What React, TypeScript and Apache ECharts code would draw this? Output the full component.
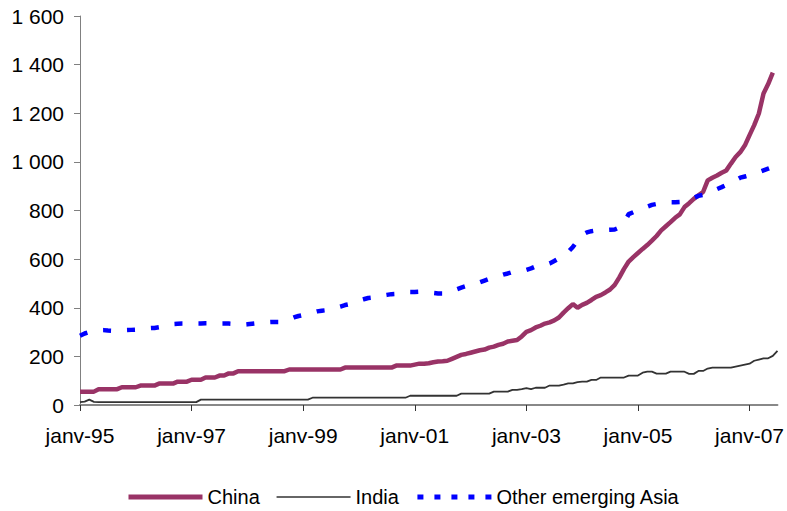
import React, { useEffect, useRef } from "react";
import * as echarts from "echarts";

// Monthly series, janv-95 through juil-07
const monthNames = ["janv", "févr", "mars", "avr", "mai", "juin", "juil", "août", "sept", "oct", "nov", "déc"];
const years = [95, 96, 97, 98, 99, 0, 1, 2, 3, 4, 5, 6, 7];
const pointCount = 151;

const china = [
  55, 55, 55, 55, 65, 65, 65, 65, 65, 73, 73, 73,
  73, 80, 80, 80, 80, 88, 88, 88, 88, 96, 96, 96,
  104, 104, 104, 113, 113, 113, 121, 121, 130, 130, 139, 139,
  139, 139, 139, 139, 139, 139, 139, 139, 139, 146, 146, 146,
  146, 146, 146, 146, 146, 146, 146, 146, 146, 154, 154, 154,
  154, 154, 154, 154, 154, 154, 154, 154, 162, 162, 162, 162,
  166, 170, 170, 172, 176, 179, 180, 182, 190, 198, 206, 210,
  215, 220, 225, 228, 236, 240, 247, 252, 261, 264, 267, 282,
  301, 308, 319, 326, 335, 340, 348, 360, 380, 398, 415, 400,
  412, 420, 432, 445, 452, 463, 475, 494, 525, 560, 590, 608,
  625, 642, 658, 676, 695, 718, 735, 752, 770, 784, 814, 830,
  848, 862, 876, 924, 935, 944, 955, 965, 993, 1020, 1040, 1068,
  1110, 1151, 1199, 1281, 1320, 1367, null,
];

const india = [
  12, 14, 22, 13, 12, 12, 12, 12, 12, 12, 12, 12,
  12, 12, 12, 12, 12, 12, 12, 12, 12, 12, 12, 12,
  12, 12, 22, 22, 22, 22, 22, 22, 22, 22, 22, 22,
  22, 22, 22, 22, 22, 22, 22, 22, 22, 22, 22, 22,
  22, 22, 30, 30, 30, 30, 30, 30, 30, 30, 30, 30,
  30, 30, 30, 30, 30, 30, 30, 30, 30, 30, 30, 38,
  38, 38, 38, 38, 38, 38, 38, 38, 38, 38, 47, 47,
  47, 47, 47, 47, 47, 55, 55, 55, 55, 62, 62, 65,
  69, 65, 71, 71, 71, 80, 80, 80, 84, 89, 89, 94,
  96, 96, 103, 103, 113, 113, 113, 113, 113, 113, 121, 121,
  121, 133, 137, 137, 129, 129, 129, 137, 137, 137, 137, 128,
  128, 140, 140, 150, 154, 154, 154, 154, 154, 158, 162, 166,
  170, 182, 187, 192, 192, 202, 223,
];

const otherAsia = [
  285, 294, 300, 305, 308, 308, 306, 305, 306, 308, 308, 309,
  310, 312, 315, 316, 317, 320, 325, 330, 333, 334, 335, 335,
  335, 335, 335, 336, 336, 335, 335, 335, 335, 334, 331, 330,
  332, 334, 336, 338, 340, 341, 341, 341, 345, 352, 360, 366,
  370, 375, 380, 385, 388, 390, 395, 400, 405, 411, 415, 425,
  430, 435, 440, 442, 445, 450, 453, 456, 457, 460, 462, 465,
  465, 466, 465, 463, 461, 459, 459, 460, 468, 476, 483, 489,
  492, 498, 505, 512, 519, 524, 530, 536, 541, 547, 550, 552,
  556, 562, 570, 573, 575, 582, 592, 603, 615, 630, 650, 675,
  700, 710, 715, 718, 720, 720, 721, 722, 730, 750, 785, 793,
  800, 808, 816, 823, 827, 830, 832, 834, 834, 835, 838, 845,
  852, 860, 864, 870, 880, 888, 896, 905, 915, 925, 935, 940,
  945, 950, 958, 965, 972, 979, 988,
];

const categories: string[] = [];
years.forEach((y) => {
  monthNames.forEach((m) => {
    if (categories.length < pointCount) categories.push(`${m}-${String(y).padStart(2, "0")}`);
  });
});

const labelEvery = 24;
const font = "'Liberation Sans', Arial, sans-serif";
const thousands = (v: number) => String(v).replace(/\B(?=(\d{3})+(?!\d))/g, " ");
const hiddenMarker = { color: "rgba(0,0,0,0)", borderColor: "rgba(0,0,0,0)", borderWidth: 0, opacity: 0 };

export default function App() {
  const ref = useRef<HTMLDivElement>(null);

  useEffect(() => {
    if (!ref.current) return;
    const chart = echarts.init(ref.current, null, { renderer: "svg" });
    chart.setOption({
      animation: false,
      backgroundColor: "#ffffff",
      textStyle: { fontFamily: font },
      grid: { left: 80, right: 7, top: 16, bottom: 106, containLabel: false },
      legend: {
        left: 126,
        top: 487,
        padding: 0,
        itemWidth: 74,
        itemHeight: 14,
        itemGap: 16,
        itemStyle: hiddenMarker,
        textStyle: { fontSize: 20, color: "#000", fontFamily: font },
        data: [
          { name: "China", itemStyle: hiddenMarker, lineStyle: { width: 5 } },
          { name: "India", itemStyle: hiddenMarker, lineStyle: { width: 1.6 } },
          { name: "Other emerging Asia", itemStyle: hiddenMarker, lineStyle: { type: [6, 11], width: 5, cap: "butt" } },
        ],
      },
      xAxis: {
        type: "category",
        data: categories,
        boundaryGap: false,
        axisLine: { lineStyle: { color: "#888888", width: 2 } },
        axisTick: {
          show: true,
          length: 6,
          interval: (i: number) => i % labelEvery === 0,
          lineStyle: { color: "#333", width: 1 },
        },
        axisLabel: {
          interval: (i: number) => i % labelEvery === 0,
          margin: 20,
          fontSize: 21,
          color: "#000",
          fontFamily: font,
        },
        splitLine: { show: false },
      },
      yAxis: {
        type: "value",
        min: 0,
        max: 1600,
        interval: 200,
        axisLine: { show: true, lineStyle: { color: "#808080", width: 1 } },
        axisTick: { show: true, length: 6, lineStyle: { color: "#808080" } },
        axisLabel: {
          margin: 16,
          fontSize: 21,
          color: "#000",
          fontFamily: font,
          formatter: (v: number) => thousands(v),
        },
        splitLine: { show: false },
      },
      series: [
        {
          name: "China",
          type: "line",
          data: china,
          symbol: "none",
          lineStyle: { color: "#993366", width: 4.5 },
          itemStyle: { color: "#993366" },
        },
        {
          name: "India",
          type: "line",
          data: india,
          symbol: "none",
          lineStyle: { color: "#333333", width: 1.8 },
          itemStyle: { color: "#333333" },
        },
        {
          name: "Other emerging Asia",
          type: "line",
          data: otherAsia,
          symbol: "none",
          lineStyle: { color: "#0000ff", width: 4.5, type: [8, 16], cap: "butt" },
          itemStyle: { color: "#0000ff" },
        },
      ],
    });
    return () => chart.dispose();
  }, []);

  return (
    <div
      ref={ref}
      style={{ position: "fixed", left: 0, top: 0, width: 787, height: 511, background: "#fff" }}
    />
  );
}
